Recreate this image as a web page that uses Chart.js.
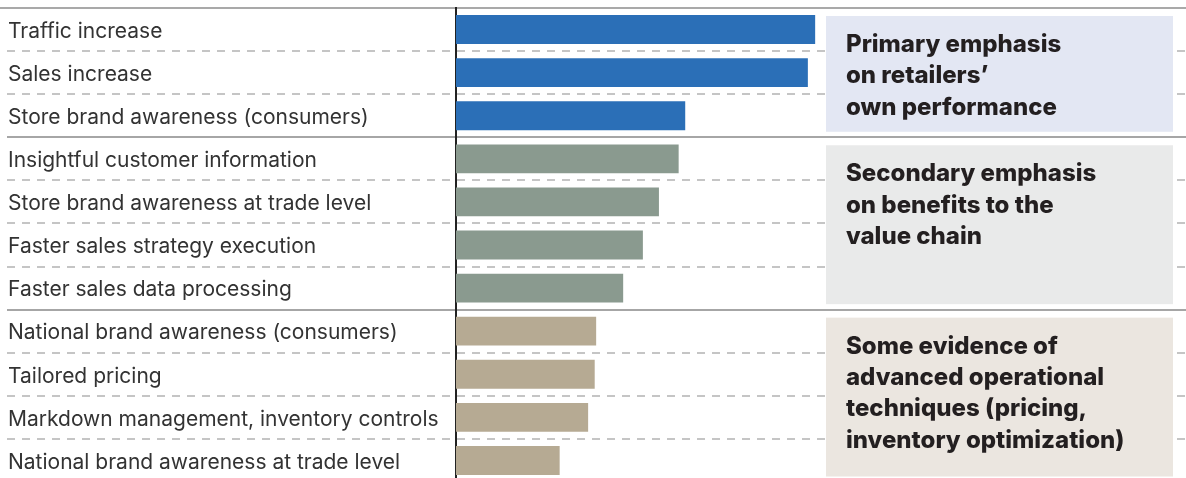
<!DOCTYPE html>
<html>
<head>
<meta charset="utf-8">
<script src="https://cdn.jsdelivr.net/npm/chart.js@4.4.1/dist/chart.umd.min.js"></script>
<style>
  html, body { margin: 0; padding: 0; background: #fff; overflow: hidden; }
  #wrap { width: 1186px; height: 482px; }
</style>
</head>
<body>
<div id="wrap"><canvas id="chart"></canvas></div>
<script>
const categories = [
  "Traffic increase",
  "Sales increase",
  "Store brand awareness (consumers)",
  "Insightful customer information",
  "Store brand awareness at trade level",
  "Faster sales strategy execution",
  "Faster sales data processing",
  "National brand awareness (consumers)",
  "Tailored pricing",
  "Markdown management, inventory controls",
  "National brand awareness at trade level"
]
const values = [49.2, 48.2, 31.4, 30.5, 27.8, 25.6, 22.9, 19.2, 19.0, 18.1, 14.2]
const groups = [0, 0, 0, 1, 1, 1, 1, 2, 2, 2, 2]
const groupNotes = [
  ["Primary emphasis", "on retailers’", "own performance"],
  ["Secondary emphasis", "on benefits to the", "value chain"],
  ["Some evidence of", "advanced operational", "techniques (pricing,", "inventory optimization)"]
]

const groupColors = ["#2b6fb7", "#8a9a8f", "#b6aa93"]
const boxColors = ["#e3e7f3", "#e9eaea", "#ebe6e0"]

// linhas entre categorias (tracejadas) e entre grupos (sólidas)
const rowLines = {
  id: "rowLines",
  beforeDraw(chart) {
    const { ctx, width } = chart
    const y = chart.scales.y
    const half = (y.getPixelForValue(1) - y.getPixelForValue(0)) / 2
    ctx.save()
    ctx.strokeStyle = "#8c8c8c"
    ctx.lineWidth = 1.5
    ctx.beginPath()
    ctx.moveTo(0, y.getPixelForValue(0) - half)
    ctx.lineTo(width, y.getPixelForValue(0) - half)
    ctx.stroke()
    for (let i = 1; i < categories.length; i++) {
      const py = Math.round(y.getPixelForValue(i) - half)
      const split = groups[i] !== groups[i - 1]
      ctx.setLineDash(split ? [] : [8, 7])
      ctx.strokeStyle = split ? "#a6a6a6" : "#b2b2b2"
      ctx.lineWidth = split ? 2 : 1.5
      ctx.beginPath()
      ctx.moveTo(7, py)
      ctx.lineTo(width, py)
      ctx.stroke()
    }
    ctx.restore()
  }
}

// caixas de comentário à direita
const noteBoxes = {
  id: "noteBoxes",
  afterDatasetsDraw(chart) {
    const { ctx } = chart
    const y = chart.scales.y
    const half = (y.getPixelForValue(1) - y.getPixelForValue(0)) / 2
    ctx.save()
    groupNotes.forEach((lines, g) => {
      const first = groups.indexOf(g)
      const last = groups.lastIndexOf(g)
      const top = y.getPixelForValue(first) - half + 8
      const bottom = y.getPixelForValue(last) + half - 5.5
      ctx.fillStyle = boxColors[g]
      ctx.fillRect(826, top, 347, bottom - top)
      ctx.fillStyle = "#231f20"
      ctx.font = "800 24px Inter"
      ctx.textBaseline = "alphabetic"
      ctx.textAlign = "left"
      lines.forEach((t, k) => ctx.fillText(t, 846, top + 36 + k * 31.4))
    })
    ctx.restore()
  }
}

new Chart(document.getElementById("chart"), {
  type: "bar",
  data: {
    labels: categories,
    datasets: [{
      data: values,
      backgroundColor: groups.map((g) => groupColors[g]),
      barPercentage: 0.67,
      categoryPercentage: 1
    }]
  },
  options: {
    indexAxis: "y",
    responsive: true,
    maintainAspectRatio: false,
    animation: false,
    layout: { padding: { top: 8, left: 8, right: 0, bottom: 0 } },
    plugins: { legend: { display: false }, tooltip: { enabled: false } },
    scales: {
      x: { display: false, min: 0, max: 100 },
      y: {
        grid: { display: false, drawTicks: false },
        border: { display: true, color: "#222", width: 2 },
        ticks: {
          crossAlign: "far",
          padding: 0,
          labelOffset: 2,
          color: "#333",
          font: { family: "Inter", size: 21 }
        },
        afterFit: (scale) => {
          scale.width = 448
          scale.paddingTop = 0
          scale.paddingBottom = 0
        }
      }
    }
  },
  plugins: [rowLines, noteBoxes]
})
</script>
</body>
</html>
